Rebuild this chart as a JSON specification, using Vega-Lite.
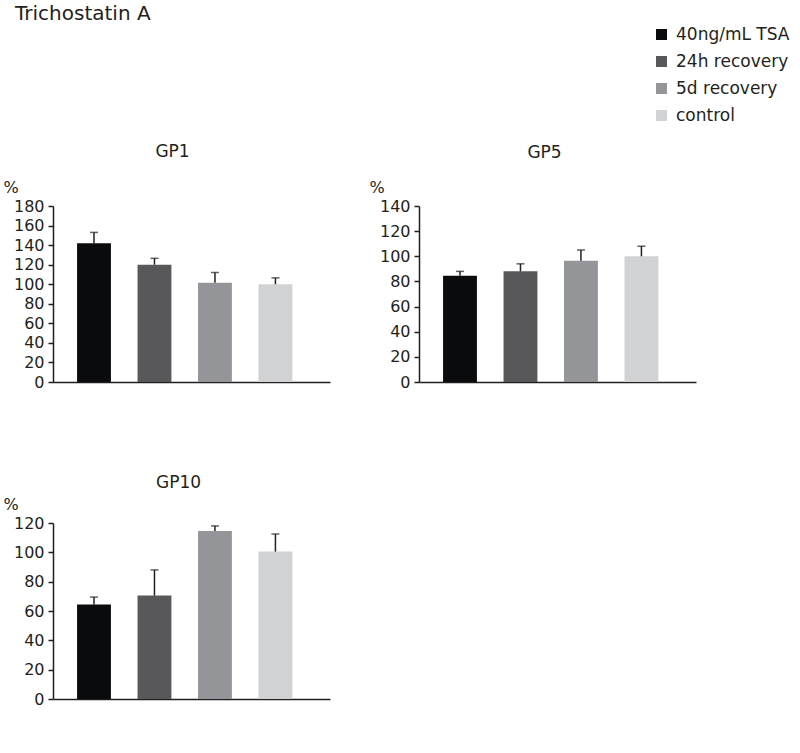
{
  "$schema": "https://vega.github.io/schema/vega-lite/v6.json",
  "padding": {"left": 3, "top": 4, "right": 0, "bottom": 0},
  "title": {"text": "Trichostatin A", "anchor": "start", "fontSize": 20, "font": "DejaVu Sans", "fontWeight": "normal", "color": "#231f20", "offset": 2, "dx": 12},
  "data": {"values": [
    {"panel": "GP1", "group": "40ng/mL TSA", "value": 142, "upper": 153},
    {"panel": "GP1", "group": "24h recovery", "value": 120, "upper": 126.5},
    {"panel": "GP1", "group": "5d recovery", "value": 101.5, "upper": 112},
    {"panel": "GP1", "group": "control", "value": 100, "upper": 106.5},
    {"panel": "GP5", "group": "40ng/mL TSA", "value": 84.5, "upper": 88},
    {"panel": "GP5", "group": "24h recovery", "value": 88, "upper": 94},
    {"panel": "GP5", "group": "5d recovery", "value": 96.5, "upper": 105},
    {"panel": "GP5", "group": "control", "value": 100, "upper": 108},
    {"panel": "GP10", "group": "40ng/mL TSA", "value": 64.5, "upper": 69.5},
    {"panel": "GP10", "group": "24h recovery", "value": 70.5, "upper": 88},
    {"panel": "GP10", "group": "5d recovery", "value": 114.5, "upper": 118},
    {"panel": "GP10", "group": "control", "value": 100.5, "upper": 112.5}
  ]},
  "bounds": "flush",
  "columns": 2,
  "spacing": {"row": 141, "column": 89},
  "concat": [
    {
      "transform": [{"filter": "datum.panel == 'GP1'"}],
      "title": {"text": "GP1", "dx": -19, "offset": 18},
      "width": 277, "height": 176,
      "encoding": {
        "x": {"field": "group", "type": "nominal", "sort": ["40ng/mL TSA", "24h recovery", "5d recovery", "control"], "scale": {"paddingInner": 0.44, "paddingOuter": 0.51, "align": 0.39}, "axis": {"labels": false, "ticks": false, "title": null}}
      },
      "layer": [
        {"mark": {"type": "bar"}, "encoding": {
          "y": {"field": "value", "type": "quantitative", "scale": {"domain": [0, 180], "nice": false}, "axis": {"values": [0, 20, 40, 60, 80, 100, 120, 140, 160, 180], "title": "%"}},
          "color": {"field": "group", "type": "nominal", "sort": ["40ng/mL TSA", "24h recovery", "5d recovery", "control"], "scale": {"domain": ["40ng/mL TSA", "24h recovery", "5d recovery", "control"], "range": ["#0a0b0d", "#58585a", "#949599", "#d1d2d4"]}, "legend": {"title": null, "orient": "none", "legendX": 600, "legendY": -180}}
        }},
        {"mark": {"type": "rule", "color": "#231f20", "strokeWidth": 1.5}, "encoding": {"y": {"field": "value", "type": "quantitative", "axis": {"values": [0, 20, 40, 60, 80, 100, 120, 140, 160, 180], "title": "%"}}, "y2": {"field": "upper"}}},
        {"mark": {"type": "tick", "color": "#231f20", "thickness": 1.5, "size": 8}, "encoding": {"y": {"field": "upper", "type": "quantitative", "axis": {"values": [0, 20, 40, 60, 80, 100, 120, 140, 160, 180], "title": "%"}}}}
      ]
    },
    {
      "transform": [{"filter": "datum.panel == 'GP5'"}],
      "title": {"text": "GP5", "dx": -13, "offset": 17},
      "width": 277, "height": 176,
      "encoding": {
        "x": {"field": "group", "type": "nominal", "sort": ["40ng/mL TSA", "24h recovery", "5d recovery", "control"], "scale": {"paddingInner": 0.44, "paddingOuter": 0.51, "align": 0.39}, "axis": {"labels": false, "ticks": false, "title": null}}
      },
      "layer": [
        {"mark": {"type": "bar"}, "encoding": {
          "y": {"field": "value", "type": "quantitative", "scale": {"domain": [0, 140], "nice": false}, "axis": {"values": [0, 20, 40, 60, 80, 100, 120, 140], "title": "%"}},
          "color": {"field": "group", "type": "nominal", "sort": ["40ng/mL TSA", "24h recovery", "5d recovery", "control"]}
        }},
        {"mark": {"type": "rule", "color": "#231f20", "strokeWidth": 1.5}, "encoding": {"y": {"field": "value", "type": "quantitative", "axis": {"values": [0, 20, 40, 60, 80, 100, 120, 140], "title": "%"}}, "y2": {"field": "upper"}}},
        {"mark": {"type": "tick", "color": "#231f20", "thickness": 1.5, "size": 8}, "encoding": {"y": {"field": "upper", "type": "quantitative", "axis": {"values": [0, 20, 40, 60, 80, 100, 120, 140], "title": "%"}}}}
      ]
    },
    {
      "transform": [{"filter": "datum.panel == 'GP10'"}],
      "title": {"text": "GP10", "dx": -13, "offset": 4},
      "width": 277, "height": 176,
      "encoding": {
        "x": {"field": "group", "type": "nominal", "sort": ["40ng/mL TSA", "24h recovery", "5d recovery", "control"], "scale": {"paddingInner": 0.44, "paddingOuter": 0.51, "align": 0.39}, "axis": {"labels": false, "ticks": false, "title": null}}
      },
      "layer": [
        {"mark": {"type": "bar"}, "encoding": {
          "y": {"field": "value", "type": "quantitative", "scale": {"domain": [0, 120], "nice": false}, "axis": {"values": [0, 20, 40, 60, 80, 100, 120], "title": "%"}},
          "color": {"field": "group", "type": "nominal", "sort": ["40ng/mL TSA", "24h recovery", "5d recovery", "control"]}
        }},
        {"mark": {"type": "rule", "color": "#231f20", "strokeWidth": 1.5}, "encoding": {"y": {"field": "value", "type": "quantitative", "axis": {"values": [0, 20, 40, 60, 80, 100, 120], "title": "%"}}, "y2": {"field": "upper"}}},
        {"mark": {"type": "tick", "color": "#231f20", "thickness": 1.5, "size": 8}, "encoding": {"y": {"field": "upper", "type": "quantitative", "axis": {"values": [0, 20, 40, 60, 80, 100, 120], "title": "%"}}}}
      ]
    }
  ],
  "resolve": {"scale": {"y": "independent", "x": "independent"}},
  "config": {
    "font": "DejaVu Sans",
    "view": {"stroke": null},
    "title": {"fontSize": 17, "font": "DejaVu Sans", "fontWeight": "normal", "color": "#231f20"},
    "axis": {"grid": false, "labelOverlap": false, "domainColor": "#231f20", "domainWidth": 1.5, "tickColor": "#231f20", "tickWidth": 1.5, "tickSize": 5, "labelPadding": 4, "labelFont": "DejaVu Sans", "labelFontSize": 16, "labelColor": "#231f20", "titleFont": "DejaVu Sans", "titleFontSize": 16, "titleFontWeight": "normal", "titleColor": "#231f20"},
    "axisY": {"titleAngle": 0, "titleAlign": "left", "titleBaseline": "middle", "titleX": -50, "titleY": -19},
    "legend": {"labelFont": "DejaVu Sans", "labelFontSize": 17, "labelColor": "#231f20", "symbolType": "square", "symbolSize": 121, "symbolStrokeWidth": 0, "symbolOpacity": 1, "rowPadding": 9, "labelOffset": 6}
  }
}
